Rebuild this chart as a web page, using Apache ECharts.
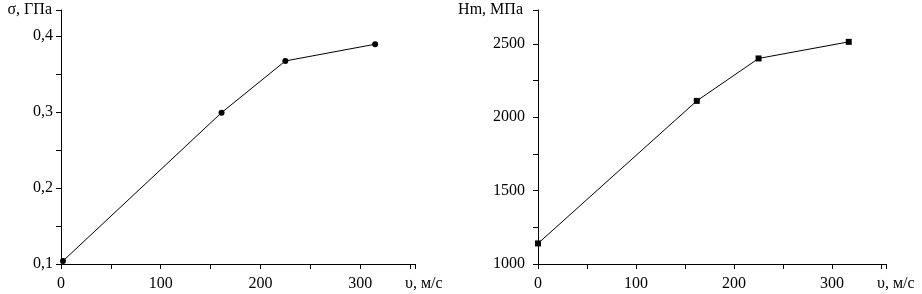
<!DOCTYPE html>
<html>
<head>
<meta charset="utf-8">
<script src="https://cdn.jsdelivr.net/npm/echarts@6/dist/echarts.min.js"></script>
<style>
html, body { margin: 0; padding: 0; background: #fff; }
#chart { width: 922px; height: 294px; }
</style>
</head>
<body>
<div id="chart"></div>
<script>
// скорость, м/с
const speedLeft = [2, 161, 225, 315]
const stress = [0.104, 0.299, 0.367, 0.389] // σ, ГПа
const speedRight = [0, 162, 225, 317]
const hardness = [1140, 2111, 2400, 2513] // Hm, МПа

const font = "Liberation Serif"
const fs = 16

function pairs(xs, ys) {
    return xs.map((x, i) => [x, ys[i]])
}

let myChart = echarts.init(document.getElementById("chart"))

const axisCommon = {
    axisLine: { lineStyle: { color: "#000", width: 1 } },
    axisTick: { show: true, inside: false, length: 5, lineStyle: { color: "#000" } },
    splitLine: { show: false },
    axisLabel: { color: "#000", fontFamily: font, fontSize: fs }
}

function xAxis(gridIndex, gap) {
    return {
        ...axisCommon,
        type: "value",
        gridIndex: gridIndex,
        min: 0,
        max: 355,
        interval: 50,
        name: "υ, м/с",
        nameLocation: "end",
        nameGap: gap,
        nameTextStyle: { color: "#000", fontFamily: font, fontSize: fs, align: "left", verticalAlign: "top", padding: [12, 0, 0, 0] },
        axisLabel: {
            ...axisCommon.axisLabel,
            margin: 12,
            formatter: v => (v % 100 === 0 ? String(v) : "")
        }
    }
}

myChart.setOption({
    animation: false,
    grid: [
        { left: 61, top: 10, width: 354, bottom: 30 },
        { left: 538, top: 10, width: 348, bottom: 30 }
    ],
    xAxis: [xAxis(0, -10), xAxis(1, -9)],
    yAxis: [
        {
            ...axisCommon,
            type: "value",
            gridIndex: 0,
            min: 0.1,
            max: 0.434,
            interval: 0.05,
            name: "σ, ГПа",
            nameLocation: "end",
            nameGap: 0,
            nameTextStyle: { color: "#000", fontFamily: font, fontSize: fs, align: "right", verticalAlign: "middle", padding: [0, 9, 0, 0] },
            axisLabel: {
                ...axisCommon.axisLabel,
                margin: 8,
                formatter: v => {
                    const t = v * 10
                    return Math.abs(t - Math.round(t)) < 1e-6 ? v.toFixed(1).replace(".", ",") : ""
                }
            }
        },
        {
            ...axisCommon,
            type: "value",
            gridIndex: 1,
            min: 1000,
            max: 2730,
            interval: 250,
            name: "Hm, МПа",
            nameLocation: "end",
            nameGap: 0,
            nameTextStyle: { color: "#000", fontFamily: font, fontSize: fs, align: "right", verticalAlign: "middle", padding: [8, 15, 0, 0] },
            axisLabel: {
                ...axisCommon.axisLabel,
                margin: 13,
                formatter: v => (v % 500 === 0 ? String(v) : "")
            }
        }
    ],
    series: [
        {
            type: "line",
            xAxisIndex: 0,
            yAxisIndex: 0,
            data: pairs(speedLeft, stress),
            symbol: "circle",
            symbolSize: 6,
            lineStyle: { color: "#000", width: 1 },
            itemStyle: { color: "#000" }
        },
        {
            type: "line",
            xAxisIndex: 1,
            yAxisIndex: 1,
            data: pairs(speedRight, hardness),
            symbol: "rect",
            symbolSize: 6,
            lineStyle: { color: "#000", width: 1 },
            itemStyle: { color: "#000" }
        }
    ]
})
</script>
</body>
</html>
